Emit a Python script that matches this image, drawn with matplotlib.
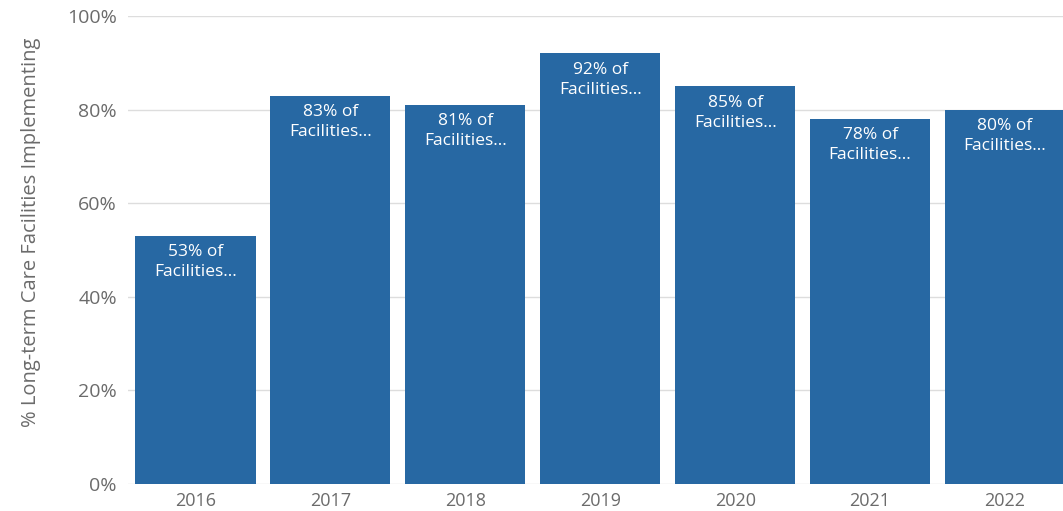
import matplotlib.pyplot as plt
from matplotlib.ticker import PercentFormatter

years = ['2016', '2017', '2018', '2019', '2020', '2021', '2022']
pct_implementing = [53, 83, 81, 92, 85, 78, 80]

plt.rcParams['font.family'] = ['Open Sans', 'DejaVu Sans']

fig = plt.figure(figsize=(10.63, 5.11), dpi=100)
ax = fig.add_axes([128 / 1063, 1 - 484 / 511, 1 - 128 / 1063, 468 / 511])

x = range(len(years))
bars = ax.bar(x, pct_implementing, width=0.89, color='#2768a3', zorder=2)

# value labels inside the top of each bar
for xi, v in zip(x, pct_implementing):
    ax.annotate(f'{v}% of\nFacilities…', (xi, v), xytext=(0, -6),
                textcoords='offset points', ha='center', va='top',
                color='white', fontsize=12.5, linespacing=1.35)

ax.set_ylim(0, 100)
ax.set_xlim(-0.5, (1063 - 195) / 135)
ax.set_yticks(range(0, 101, 20))
ax.yaxis.set_major_formatter(PercentFormatter(decimals=0))
ax.set_xticks(list(x))
ax.set_xticklabels(years)

ax.grid(axis='y', color='#dddddd', linewidth=1, zorder=0)
for s in ax.spines.values():
    s.set_visible(False)
ax.tick_params(axis='both', length=0, colors='#6b6b6b')
ax.tick_params(axis='y', pad=8, labelsize=14)
ax.tick_params(axis='x', pad=6, labelsize=13)
ax.set_ylabel('% Long-term Care Facilities Implementing', color='#6b6b6b',
              fontsize=14.5)
ax.yaxis.set_label_coords(-0.093, 0.537)

fig.savefig('out.png', dpi=100)
